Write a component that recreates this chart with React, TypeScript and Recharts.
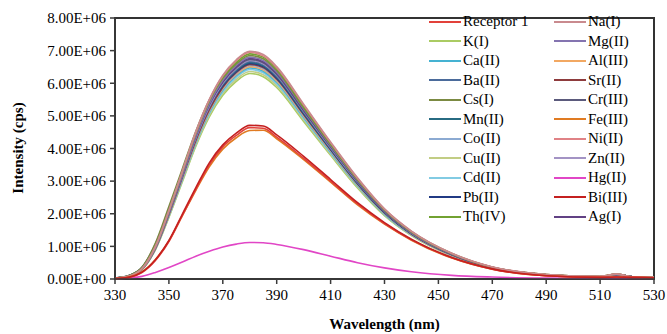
import React from "react";
import { LineChart, Line, XAxis, YAxis, ReferenceArea } from "recharts";

// wavelength (nm)
const wavelengths = [330, 335, 340, 345, 350, 355, 360, 365, 370, 375, 380, 385, 390, 400, 410, 420, 430, 440, 455, 470, 490, 510, 516, 522, 530];

// intensity in units of 1E+06 cps
const receptor1 = [0.01, 0.05, 0.2, 0.57, 1.15, 1.95, 2.75, 3.5, 4.05, 4.4, 4.64, 4.62, 4.35, 3.7, 3.0, 2.3, 1.7, 1.2, 0.65, 0.3, 0.1, 0.05, 0.06, 0.05, 0.04];
const naI = [0.02, 0.08, 0.32, 1.0, 2.1, 3.31, 4.52, 5.51, 6.25, 6.72, 6.98, 6.88, 6.51, 5.36, 4.2, 3.1, 2.15, 1.47, 0.79, 0.37, 0.14, 0.08, 0.15, 0.07, 0.05];
const kI = [0.02, 0.07, 0.28, 0.9, 1.89, 2.98, 4.07, 4.97, 5.63, 6.06, 6.3, 6.2, 5.87, 4.83, 3.79, 2.79, 1.94, 1.33, 0.71, 0.33, 0.12, 0.07, 0.13, 0.06, 0.05];
const mgII = [0.02, 0.08, 0.31, 0.97, 2.05, 3.22, 4.4, 5.37, 6.09, 6.55, 6.8, 6.7, 6.34, 5.22, 4.09, 3.02, 2.1, 1.43, 0.77, 0.36, 0.13, 0.07, 0.15, 0.07, 0.05];
const caII = [0.02, 0.08, 0.29, 0.92, 1.95, 3.06, 4.18, 5.11, 5.79, 6.23, 6.47, 6.37, 6.03, 4.96, 3.89, 2.87, 1.99, 1.36, 0.73, 0.34, 0.13, 0.07, 0.14, 0.07, 0.05];
const alIII = [0.02, 0.08, 0.29, 0.93, 1.96, 3.08, 4.21, 5.14, 5.83, 6.27, 6.51, 6.41, 6.07, 4.99, 3.92, 2.89, 2.01, 1.37, 0.73, 0.34, 0.13, 0.07, 0.14, 0.07, 0.05];
const baII = [0.02, 0.08, 0.3, 0.95, 2.01, 3.16, 4.31, 5.27, 5.97, 6.42, 6.67, 6.57, 6.22, 5.12, 4.01, 2.96, 2.06, 1.4, 0.75, 0.35, 0.13, 0.07, 0.14, 0.07, 0.05];
const srII = [0.02, 0.08, 0.3, 0.94, 1.98, 3.12, 4.25, 5.19, 5.88, 6.33, 6.58, 6.48, 6.13, 5.04, 3.96, 2.92, 2.03, 1.38, 0.74, 0.35, 0.13, 0.07, 0.14, 0.07, 0.05];
const csI = [0.03, 0.1, 0.36, 1.1, 2.22, 3.38, 4.53, 5.48, 6.15, 6.59, 6.85, 6.75, 6.39, 5.25, 4.12, 3.04, 2.11, 1.44, 0.77, 0.36, 0.14, 0.08, 0.15, 0.07, 0.05];
const crIII = [0.03, 0.1, 0.35, 1.07, 2.15, 3.3, 4.44, 5.37, 6.04, 6.48, 6.73, 6.63, 6.27, 5.16, 4.05, 2.99, 2.07, 1.42, 0.76, 0.35, 0.13, 0.07, 0.14, 0.07, 0.05];
const mnII = [0.03, 0.1, 0.35, 1.05, 2.12, 3.26, 4.38, 5.3, 5.96, 6.39, 6.64, 6.54, 6.19, 5.09, 3.99, 2.94, 2.05, 1.4, 0.75, 0.35, 0.13, 0.07, 0.14, 0.07, 0.05];
const feIII = [0.01, 0.06, 0.22, 0.6, 1.17, 1.94, 2.72, 3.44, 3.98, 4.33, 4.55, 4.56, 4.3, 3.66, 2.97, 2.27, 1.68, 1.19, 0.64, 0.3, 0.1, 0.05, 0.06, 0.05, 0.04];
const coII = [0.02, 0.08, 0.3, 0.94, 1.97, 3.1, 4.24, 5.17, 5.86, 6.3, 6.55, 6.45, 6.11, 5.02, 3.94, 2.91, 2.02, 1.38, 0.74, 0.34, 0.13, 0.07, 0.14, 0.07, 0.05];
const niII = [0.02, 0.08, 0.31, 0.99, 2.09, 3.29, 4.49, 5.49, 6.22, 6.69, 6.95, 6.84, 6.48, 5.33, 4.18, 3.08, 2.14, 1.46, 0.78, 0.37, 0.14, 0.08, 0.15, 0.07, 0.05];
const cuII = [0.02, 0.07, 0.29, 0.91, 1.91, 3.01, 4.11, 5.02, 5.69, 6.12, 6.36, 6.26, 5.93, 4.88, 3.82, 2.82, 1.96, 1.34, 0.72, 0.33, 0.12, 0.07, 0.13, 0.06, 0.05];
const znII = [0.02, 0.08, 0.3, 0.96, 2.02, 3.18, 4.33, 5.29, 6.0, 6.45, 6.7, 6.6, 6.25, 5.14, 4.03, 2.97, 2.07, 1.41, 0.76, 0.35, 0.13, 0.07, 0.14, 0.07, 0.05];
const cdII = [0.02, 0.08, 0.29, 0.92, 1.93, 3.04, 4.15, 5.07, 5.74, 6.18, 6.42, 6.32, 5.98, 4.92, 3.86, 2.85, 1.98, 1.35, 0.72, 0.34, 0.13, 0.07, 0.14, 0.07, 0.05];
const hgII = [0.0, 0.03, 0.08, 0.2, 0.35, 0.52, 0.7, 0.85, 0.98, 1.07, 1.12, 1.11, 1.06, 0.9, 0.7, 0.5, 0.34, 0.22, 0.11, 0.06, 0.03, 0.02, 0.02, 0.02, 0.02];
const pbII = [0.03, 0.1, 0.34, 1.05, 2.11, 3.25, 4.36, 5.28, 5.93, 6.36, 6.61, 6.51, 6.16, 5.07, 3.98, 2.93, 2.04, 1.39, 0.75, 0.35, 0.13, 0.07, 0.14, 0.07, 0.05];
const biIII = [0.01, 0.05, 0.21, 0.59, 1.18, 1.99, 2.8, 3.56, 4.11, 4.47, 4.71, 4.69, 4.42, 3.76, 3.05, 2.34, 1.73, 1.22, 0.66, 0.31, 0.1, 0.05, 0.06, 0.05, 0.04];
const thIV = [0.02, 0.08, 0.31, 0.99, 2.08, 3.27, 4.46, 5.45, 6.18, 6.64, 6.9, 6.8, 6.44, 5.29, 4.15, 3.06, 2.13, 1.45, 0.78, 0.36, 0.14, 0.08, 0.15, 0.07, 0.05];
const agI = [0.02, 0.08, 0.31, 0.97, 2.03, 3.2, 4.37, 5.34, 6.05, 6.51, 6.76, 6.66, 6.31, 5.19, 4.07, 3.0, 2.08, 1.42, 0.76, 0.36, 0.13, 0.07, 0.14, 0.07, 0.05];

const xTicks = [330, 350, 370, 390, 410, 430, 450, 470, 490, 510, 530];
const yTicks = [0, 1, 2, 3, 4, 5, 6, 7, 8];

// legend order (two columns, row-major)
const seriesList = [
  { key: "Receptor 1", values: receptor1, color: "#e2413a" },
  { key: "Na(I)", values: naI, color: "#c98a8e" },
  { key: "K(I)", values: kI, color: "#aacb63" },
  { key: "Mg(II)", values: mgII, color: "#8474b0" },
  { key: "Ca(II)", values: caII, color: "#45b2d2" },
  { key: "Al(III)", values: alIII, color: "#f2a862" },
  { key: "Ba(II)", values: baII, color: "#4b6b9b" },
  { key: "Sr(II)", values: srII, color: "#8e3b3d" },
  { key: "Cs(I)", values: csI, color: "#7b8a42" },
  { key: "Cr(III)", values: crIII, color: "#5b5a7c" },
  { key: "Mn(II)", values: mnII, color: "#276b82" },
  { key: "Fe(III)", values: feIII, color: "#e07b22" },
  { key: "Co(II)", values: coII, color: "#8caad2" },
  { key: "Ni(II)", values: niII, color: "#e08286" },
  { key: "Cu(II)", values: cuII, color: "#c2cd84" },
  { key: "Zn(II)", values: znII, color: "#a393c4" },
  { key: "Cd(II)", values: cdII, color: "#82cbe3" },
  { key: "Hg(II)", values: hgII, color: "#e146c6" },
  { key: "Pb(II)", values: pbII, color: "#213a84" },
  { key: "Bi(III)", values: biIII, color: "#c42020" },
  { key: "Th(IV)", values: thIV, color: "#72a231" },
  { key: "Ag(I)", values: agI, color: "#614184" },
];

// draw order (bottom of band first, then upward)
const drawOrder = ["Hg(II)", "K(I)", "Cu(II)", "Cd(II)", "Ca(II)", "Al(III)", "Co(II)", "Sr(II)", "Pb(II)", "Mn(II)", "Ba(II)", "Zn(II)", "Cr(III)", "Ag(I)", "Mg(II)", "Cs(I)", "Th(IV)", "Ni(II)", "Na(I)", "Fe(III)", "Receptor 1", "Bi(III)"];

const data = wavelengths.map((w, i) => {
  const row: Record<string, number> = { w };
  seriesList.forEach((s) => {
    row[s.key] = s.values[i];
  });
  return row;
});

const FONT = "'Liberation Serif', 'Times New Roman', serif";

const fmtY = (v: number) => (v === 0 ? "0.00E+00" : `${v.toFixed(2)}E+06`);

const LegendBox = () => (
  <div
    style={{
      position: "absolute",
      left: 429,
      top: 12,
      display: "grid",
      gridTemplateColumns: "125px 110px",
      fontFamily: FONT,
      fontSize: 15,
      color: "#000",
    }}
  >
    {seriesList.map((s) => (
      <div key={s.key} style={{ display: "flex", alignItems: "center", height: 19.5 }}>
        <span style={{ display: "inline-block", width: 32, height: 2, background: s.color, marginRight: 2 }} />
        <span style={{ lineHeight: "19.5px", whiteSpace: "nowrap" }}>{s.key}</span>
      </div>
    ))}
  </div>
);

export default function App() {
  const byKey: Record<string, { key: string; color: string }> = {};
  seriesList.forEach((s) => (byKey[s.key] = s));
  return (
    <div style={{ position: "absolute", left: 0, top: 0, width: 667, height: 334, background: "#fff" }}>
      <LineChart width={667} height={334} data={data} margin={{ top: 18, right: 13, bottom: 0, left: 0 }}>
        <XAxis
          dataKey="w"
          type="number"
          domain={[330, 530]}
          ticks={xTicks}
          height={55}
          tickSize={5}
          tickMargin={5}
          stroke="#3a3a3a"
          strokeWidth={1.5}
          tick={{ fill: "#000", fontFamily: FONT, fontSize: 15 }}
          label={{
            value: "Wavelength (nm)",
            position: "insideBottom",
            offset: 5,
            fill: "#000",
            fontFamily: FONT,
            fontSize: 15,
            fontWeight: "bold",
          }}
        />
        <YAxis
          type="number"
          domain={[0, 8]}
          ticks={yTicks}
          width={115}
          tickSize={5}
          tickMargin={4}
          stroke="#3a3a3a"
          strokeWidth={1.5}
          tickFormatter={fmtY}
          tick={{ fill: "#000", fontFamily: FONT, fontSize: 15 }}
          label={() => (
            <text
              x={18}
              y={148}
              transform="rotate(-90 18 148)"
              textAnchor="middle"
              dominantBaseline="central"
              fontFamily={FONT}
              fontSize={15}
              fontWeight="bold"
              fill="#000"
            >
              Intensity (cps)
            </text>
          )}
        />
        <ReferenceArea x1={330} x2={530} y1={0} y2={8} fill="none" stroke="#333" strokeWidth={2} />
        {drawOrder.map((k) => (
          <Line
            key={k}
            dataKey={k}
            type="monotone"
            stroke={byKey[k].color}
            strokeWidth={1.6}
            dot={false}
            isAnimationActive={false}
          />
        ))}
      </LineChart>
      <LegendBox />
    </div>
  );
}
